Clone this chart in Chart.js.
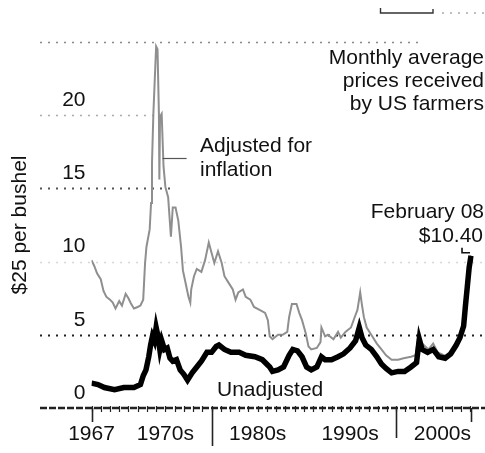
<!DOCTYPE html>
<html>
<head>
<meta charset="utf-8">
<script src="https://cdn.jsdelivr.net/npm/chart.js@4.4.1/dist/chart.umd.min.js"></script>
<style>
  html, body { margin: 0; padding: 0; background: #fff; }
  #wrap { width: 485px; height: 453px; position: relative; }
</style>
</head>
<body>
<div id="wrap"><canvas id="c" width="485" height="453"></canvas></div>
<script>
// Wheat: monthly average prices received by US farmers, $ per bushel
const adjYears = [
  1967.0, 1967.3, 1967.6, 1968.0, 1968.3, 1968.6, 1969.0, 1969.3, 1969.6, 1970.0,
  1970.3, 1970.7, 1971.0, 1971.3, 1971.6, 1972.0, 1972.3, 1972.6, 1972.8, 1972.95,
  1973.3, 1973.45, 1973.55, 1973.7, 1973.85, 1974.0, 1974.15, 1974.3, 1974.35, 1974.42,
  1974.6, 1974.8, 1975.0, 1975.3, 1975.6, 1975.8, 1976.1, 1976.4, 1976.7, 1976.9,
  1977.2, 1977.5, 1977.7, 1977.8, 1978.1, 1978.4, 1978.9, 1979.3, 1979.7, 1980.0,
  1980.3, 1980.7, 1981.1, 1981.4, 1981.8, 1982.3, 1982.6, 1982.9, 1983.4, 1983.7,
  1984.2, 1984.6, 1985.2, 1985.8, 1986.1, 1986.3, 1986.6, 1987.2, 1987.7, 1988.2,
  1988.4, 1988.7, 1989.2, 1989.5, 1989.8, 1990.2, 1990.5, 1990.8, 1991.4, 1991.8,
  1991.9, 1992.3, 1992.6, 1993.2, 1993.7, 1994.0, 1994.5, 1995.1, 1995.5, 1995.8,
  1996.1, 1996.3, 1996.5, 1996.8, 1997.4, 1997.9, 1998.4, 1998.9, 1999.5, 2000.2,
  2000.8, 2001.6, 2002.1, 2002.4, 2002.8, 2003.5, 2004.0, 2004.5, 2005.5, 2006.1,
  2006.8, 2007.4, 2007.6, 2007.8, 2007.9, 2008.1
];
const adjValues = [
  10.1, 9.7, 9.2, 8.8, 8.0, 7.6, 7.4, 7.2, 6.8, 7.3,
  7.0, 7.8, 7.5, 7.1, 6.8, 6.9, 7.0, 7.4, 9.9, 11.0,
  12.2, 14.0, 16.7, 20.1, 22.4, 24.7, 24.5, 20.1, 15.6, 19.9,
  20.1, 16.5, 15.1, 14.4, 11.7, 13.7, 13.7, 12.8, 11.0, 9.4,
  8.5, 7.6, 7.2, 8.1, 9.0, 9.5, 9.3, 10.1, 11.3, 10.6,
  9.9, 10.7, 9.9, 9.0, 8.6, 8.1, 7.4, 7.9, 8.1, 7.6,
  7.4, 6.9, 6.7, 6.5, 6.0, 4.9, 4.7, 5.0, 5.0, 5.2,
  6.2, 7.1, 7.1, 6.5, 6.0, 5.1, 4.2, 4.0, 4.1, 4.5,
  5.5, 4.9, 5.0, 4.7, 5.2, 4.8, 5.2, 5.5, 6.2, 6.7,
  7.9, 7.0, 6.2, 5.5, 4.9, 4.4, 4.0, 3.6, 3.3, 3.3,
  3.4, 3.5, 3.6, 4.9, 4.4, 4.0, 4.4, 3.8, 3.5, 4.0,
  4.7, 5.5, 7.4, 9.2, 10.1, 10.4
];
const rawYears = [
  1967.0, 1967.7, 1968.4, 1969.5, 1970.5, 1971.6, 1972.3, 1972.6, 1972.9, 1973.2,
  1973.4, 1973.6, 1973.8, 1974.0, 1974.2, 1974.4, 1974.6, 1974.9, 1975.2, 1975.5,
  1975.8, 1976.2, 1976.6, 1977.0, 1977.4, 1977.9, 1978.4, 1978.9, 1979.5, 1980.0,
  1980.5, 1980.8, 1981.4, 1982.1, 1983.0, 1983.7, 1984.7, 1985.5, 1986.3, 1986.6,
  1987.2, 1987.8, 1988.4, 1988.8, 1989.3, 1989.8, 1990.3, 1990.8, 1991.4, 1991.9,
  1992.3, 1993.0, 1993.7, 1994.3, 1995.0, 1995.6, 1996.0, 1996.3, 1996.7, 1997.3,
  1997.9, 1998.4, 1998.9, 1999.5, 2000.2, 2000.9, 2001.6, 2002.2, 2002.5, 2002.8,
  2003.4, 2004.0, 2004.6, 2005.3, 2005.9, 2006.5, 2006.9, 2007.3, 2007.5, 2007.7,
  2007.9, 2008.1
];
const rawValues = [
  1.7, 1.6, 1.4, 1.25, 1.4, 1.4, 1.6, 2.2, 2.6, 3.5,
  4.3, 4.9, 4.6, 5.5, 4.9, 4.0, 4.6, 4.0, 4.1, 3.4,
  3.2, 3.3, 2.6, 2.3, 1.9, 2.4, 2.8, 3.2, 3.8, 3.8,
  4.2, 4.3, 4.0, 3.8, 3.8, 3.6, 3.5, 3.3, 2.8, 2.5,
  2.6, 2.8, 3.6, 4.0, 3.9, 3.5, 2.8, 2.6, 2.8, 3.5,
  3.3, 3.3, 3.5, 3.7, 4.1, 4.6, 5.5, 4.8, 4.3, 4.0,
  3.5, 3.0, 2.7, 2.4, 2.5, 2.5, 2.8, 3.1, 4.7, 4.0,
  3.8, 4.0, 3.5, 3.4, 3.7, 4.3, 4.8, 5.6, 7.0, 8.3,
  9.6, 10.4
];

const yTicks = [0, 5, 10, 15, 20, 25];
const yTickLabels = ['0', '5', '10', '15', '20', ''];
const xLabelYears = [1967, 1975, 1985, 1995, 2005];
const xLabels = ['1967', '1970s', '1980s', '1990s', '2000s'];
const majorTickYears = [1967, 1980, 2000, 2008.1];

const FONT = "'Liberation Sans', Arial, Helvetica, sans-serif";
const INK = '#111';
const SIZE = 21;

const toPoints = (xs, ys) => xs.map((x, i) => ({ x, y: ys[i] }));

// Dotted reference lines behind the series, plus axis, notes and markers on top
const decor = {
  id: 'decor',
  beforeDatasetsDraw(chart) {
    const { ctx } = chart;
    const y = chart.scales.y;
    const styles = {
      5:  { color: '#222', from: 40, to: 485, width: 2.2 },
      10: { color: '#d6d6d6', from: 40, to: 485, width: 1.5 },
      15: { color: '#555', from: 40, to: 175, width: 1.8 },
      20: { color: '#aaa', from: 40, to: 160, width: 1.5 },
      25: { color: '#888', from: 40, to: 420, width: 1.5 }
    };
    ctx.save();
    Object.keys(styles).forEach(k => {
      const s = styles[k];
      const py = Math.round(y.getPixelForValue(+k)) + 0.5;
      ctx.strokeStyle = s.color;
      ctx.lineWidth = s.width;
      ctx.setLineDash([2, 6]);
      ctx.beginPath();
      ctx.moveTo(s.from, py);
      ctx.lineTo(s.to, py);
      ctx.stroke();
    });
    ctx.restore();
  },
  afterDatasetsDraw(chart) {
    const { ctx } = chart;
    const x = chart.scales.x, y = chart.scales.y;
    const axisY = y.getPixelForValue(0);
    ctx.save();
    // x axis line
    ctx.strokeStyle = '#222';
    ctx.lineWidth = 2.4;
    ctx.setLineDash([7, 2]);
    ctx.beginPath();
    ctx.moveTo(40, axisY);
    ctx.lineTo(485, axisY);
    ctx.stroke();
    ctx.setLineDash([]);
    // yearly minor ticks
    ctx.lineWidth = 1.2;
    for (let yr = 1967; yr <= 2008; yr++) {
      const px = Math.round(x.getPixelForValue(yr)) + 0.5;
      ctx.beginPath();
      ctx.moveTo(px, axisY - 2);
      ctx.lineTo(px, axisY + 4);
      ctx.stroke();
    }
    // major ticks
    const lens = { 1967: 14, 1980: 38, 2000: 30, 2008.1: 14 };
    ctx.lineWidth = 1.6;
    majorTickYears.forEach(yr => {
      const px = Math.round(x.getPixelForValue(yr)) + 0.5;
      ctx.beginPath();
      ctx.moveTo(px, axisY);
      ctx.lineTo(px, axisY + lens[yr]);
      ctx.stroke();
    });

    // notes
    ctx.fillStyle = INK;
    ctx.font = `${SIZE}px ${FONT}`;
    ctx.textBaseline = 'middle';
    ctx.textAlign = 'right';
    ctx.fillText('Monthly average', 484, 58);
    ctx.fillText('prices received', 484, 81);
    ctx.fillText('by US farmers', 484, 104);
    ctx.fillText('February 08', 484, 212);
    ctx.fillText('$10.40', 483, 236);
    ctx.textAlign = 'left';
    ctx.fillText('Adjusted for', 200, 146);
    ctx.fillText('inflation', 200, 170);
    ctx.fillText('Unadjusted', 217, 390);

    // pointer to the inflation-adjusted series
    ctx.strokeStyle = '#555';
    ctx.lineWidth = 1.2;
    const py = Math.round(y.getPixelForValue(17.1)) + 0.5;
    ctx.beginPath();
    ctx.moveTo(x.getPixelForValue(1974.7), py);
    ctx.lineTo(x.getPixelForValue(1977.3), py);
    ctx.stroke();

    // corner marker at the latest value
    const lastX = x.getPixelForValue(rawYears[rawYears.length - 1]);
    const lastY = y.getPixelForValue(rawValues[rawValues.length - 1]);
    ctx.strokeStyle = '#111';
    ctx.lineWidth = 1.6;
    ctx.beginPath();
    ctx.moveTo(lastX - 9, lastY - 8);
    ctx.lineTo(lastX - 9, lastY - 3);
    ctx.lineTo(lastX - 1, lastY - 3);
    ctx.stroke();

    // key fragment along the top edge
    ctx.strokeStyle = '#333';
    ctx.lineWidth = 1.4;
    ctx.beginPath();
    ctx.moveTo(380.5, 8);
    ctx.lineTo(380.5, 13);
    ctx.lineTo(433, 13);
    ctx.lineTo(433, 9);
    ctx.stroke();
    ctx.strokeStyle = '#aaa';
    ctx.setLineDash([2, 6]);
    ctx.beginPath();
    ctx.moveTo(442, 13);
    ctx.lineTo(485, 13);
    ctx.stroke();
    ctx.restore();
  }
};

new Chart(document.getElementById('c'), {
  type: 'line',
  data: {
    datasets: [
      {
        label: 'Adjusted for inflation',
        data: toPoints(adjYears, adjValues),
        borderColor: '#8f8f8f',
        borderWidth: 2,
        pointRadius: 0,
        tension: 0,
        order: 2
      },
      {
        label: 'Unadjusted',
        data: toPoints(rawYears, rawValues),
        borderColor: '#000',
        borderWidth: 5.5,
        pointRadius: 0,
        tension: 0,
        order: 1
      }
    ]
  },
  options: {
    responsive: false,
    animation: false,
    devicePixelRatio: 1,
    layout: { padding: { top: 42, left: 0, right: 0, bottom: 0 } },
    plugins: { legend: { display: false }, tooltip: { enabled: false } },
    scales: {
      x: {
        type: 'linear',
        min: 1967,
        max: 2008.4,
        grid: { display: false, drawTicks: false },
        border: { display: false },
        afterBuildTicks: s => { s.ticks = xLabelYears.map(v => ({ value: v })); },
        afterFit: s => { s.height = 45; },
        ticks: {
          autoSkip: false,
          maxRotation: 0,
          padding: 14,
          color: INK,
          font: { family: FONT, size: SIZE },
          callback: v => xLabels[xLabelYears.indexOf(v)]
        }
      },
      y: {
        min: 0,
        max: 25,
        grid: { display: false, drawTicks: false },
        border: { display: false },
        afterBuildTicks: s => { s.ticks = yTicks.map(v => ({ value: v })); },
        afterFit: s => { s.width = 91.5; },
        ticks: {
          padding: 6,
          labelOffset: -15,
          color: INK,
          font: { family: FONT, size: SIZE },
          callback: v => yTickLabels[yTicks.indexOf(v)]
        },
        title: {
          display: true,
          text: '$25 per bushel',
          color: INK,
          font: { family: FONT, size: SIZE },
          padding: { top: 8, bottom: 0 }
        }
      }
    }
  },
  plugins: [decor]
});
</script>
</body>
</html>
